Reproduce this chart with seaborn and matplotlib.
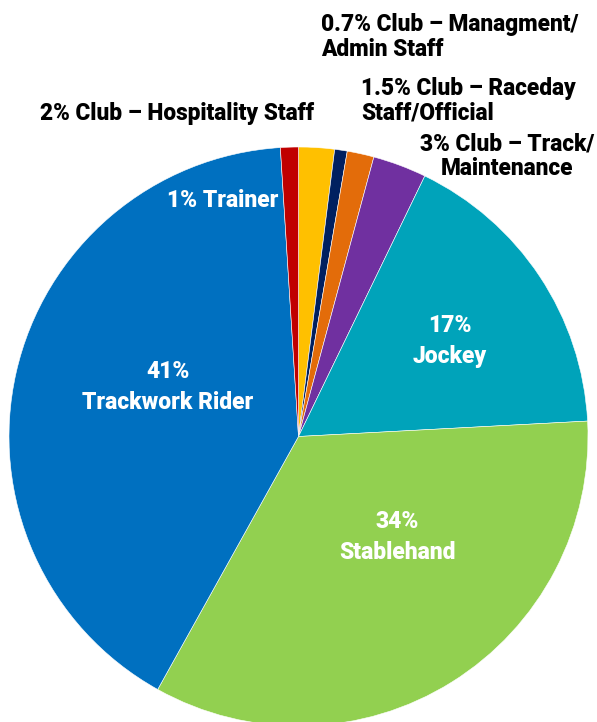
import matplotlib
matplotlib.use("Agg")
import matplotlib.pyplot as plt
import seaborn as sns

# slices, clockwise from 12 o'clock
labels = ["Club – Hospitality Staff", "Club – Managment/Admin Staff", "Club – Raceday Staff/Official",
          "Club – Track/Maintenance", "Jockey", "Stablehand", "Trackwork Rider", "Trainer"]
shares = [2, 0.7, 1.5, 3, 17, 34, 41, 1]
colors = ["#FFC000", "#002060", "#E36C0A", "#7030A0", "#00A3BA", "#92D050", "#0070C0", "#C00000"]

sns.set_theme(style="white")
plt.rcParams["font.family"] = ["Roboto", "DejaVu Sans"]

W, H = 597, 722
fig = plt.figure(figsize=(W / 100, H / 100), dpi=100)
ax = fig.add_axes([0, 0, 1, 1])

cx, cy, r = 298.5, 436.5, 289.5
ax.pie(shares, colors=colors, startangle=90, counterclock=False, radius=1,
       wedgeprops=dict(linewidth=0.4, edgecolor="white"))
ax.set_xlim(-cx / r, (W - cx) / r)
ax.set_ylim(-(H - cy) / r, cy / r)
ax.set_aspect("auto")
ax.axis("off")


def px(x, y):
    return (x - cx) / r, (cy - y) / r


# outside labels (black)
outside = [
    ("2% Club – Hospitality Staff", 177, 113, "center"),
    ("0.7% Club – Managment/\nAdmin Staff", 321, 37, "left"),
    ("1.5% Club – Raceday\nStaff/Official", 361, 101, "left"),
    ("3% Club – Track/\nMaintenance", 507, 156, "center"),
]
for txt, x, y, ha in outside:
    ax.text(*px(x, y), txt, ha=ha, va="center", fontsize=16.3, fontweight="black",
            color="black", linespacing=1.1)

# inside labels (white)
inside = [
    ("1% Trainer", 223, 200),
    ("41%\nTrackwork Rider", 168, 387),
    ("17%\nJockey", 450, 341),
    ("34%\nStablehand", 397, 537),
]
for txt, x, y in inside:
    ax.text(*px(x, y), txt, ha="center", va="center", fontsize=16.5, fontweight="black",
            color="white", linespacing=1.4)

fig.savefig("out.png", dpi=100)
